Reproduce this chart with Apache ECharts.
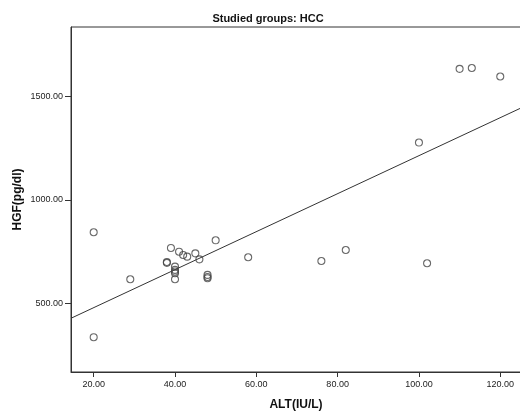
<!DOCTYPE html>
<html>
<head>
<meta charset="utf-8">
<script src="https://cdn.jsdelivr.net/npm/echarts@6/dist/echarts.min.js"></script>
<style>
  html, body { margin: 0; padding: 0; background: #fff; }
  #chart { width: 520px; height: 412px; }
</style>
</head>
<body>
<div id="chart"></div>
<script>
// ALT (IU/L) and HGF (pg/dl) per HCC patient
const altValues = [110, 113, 120, 100, 76, 82, 102, 20, 29, 39, 41, 42, 43, 45, 46, 50, 58,
                   38, 38, 40, 40, 40, 40, 40, 48, 48, 48, 20];
const hgfValues = [1633, 1637, 1596, 1277, 705, 758, 694, 844, 617, 768, 750, 734, 726, 742, 713, 805, 723,
                   696, 700, 678, 662, 654, 646, 617, 638, 628, 622, 337];

// Linear fit line endpoints (ALT, HGF)
const fitAlt = [14.42, 125.1];
const fitHgf = [428.5, 1444];

// Tick labels
const xTicks = [20, 40, 60, 80, 100, 120];
const yTicks = [500, 1000, 1500];

const points = altValues.map((a, i) => [a, hgfValues[i]]);
const fitLine = fitAlt.map((a, i) => [a, fitHgf[i]]);

const chart = echarts.init(document.getElementById('chart'), null, { renderer: 'canvas' });
const fontFam = '"Liberation Sans", Arial, sans-serif';

chart.setOption({
  backgroundColor: '#ffffff',
  animation: false,
  title: {
    text: 'Studied groups: HCC',
    left: 263,
    textAlign: 'center',
    top: 8,
    textStyle: { fontFamily: fontFam, fontWeight: 'bold', fontSize: 11, color: '#111' }
  },
  grid: {
    left: 71, top: 27, width: 450, height: 345,
    containLabel: false,
    outerBoundsMode: 'none',
    show: true, borderColor: '#333', borderWidth: 1, backgroundColor: 'transparent'
  },
  xAxis: {
    type: 'value',
    min: 14.42, max: 125.1,
    name: 'ALT(IU/L)',
    nameLocation: 'middle',
    nameGap: 27,
    nameMoveOverlap: false,
    nameTextStyle: { fontFamily: fontFam, fontWeight: 'bold', fontSize: 12, color: '#111' },
    axisLine: { show: true, onZero: false, lineStyle: { color: '#333', width: 1 } },
    axisTick: { show: true, length: 5, customValues: xTicks, lineStyle: { color: '#333' } },
    axisLabel: {
      customValues: xTicks, margin: 8,
      fontFamily: fontFam, fontSize: 9, color: '#222',
      formatter: v => v.toFixed(2)
    },
    splitLine: { show: false }
  },
  yAxis: {
    type: 'value',
    min: 169, max: 1835,
    name: 'HGF(pg/dl)',
    nameLocation: 'middle',
    nameGap: 47,
    nameMoveOverlap: false,
    nameTextStyle: { fontFamily: fontFam, fontWeight: 'bold', fontSize: 12, color: '#111' },
    axisLine: { show: true, onZero: false, lineStyle: { color: '#333', width: 1 } },
    axisTick: { show: true, length: 6, customValues: yTicks, lineStyle: { color: '#333' } },
    axisLabel: {
      customValues: yTicks, margin: 8,
      fontFamily: fontFam, fontSize: 9, color: '#222',
      formatter: v => v.toFixed(2)
    },
    splitLine: { show: false }
  },
  series: [
    {
      type: 'line',
      data: fitLine,
      symbol: 'none',
      lineStyle: { color: '#333', width: 1 },
      silent: true,
      z: 2
    },
    {
      type: 'scatter',
      data: points,
      symbol: 'circle',
      symbolSize: 7,
      itemStyle: { color: 'rgba(255,255,255,0)', borderColor: '#444', borderWidth: 1.1 },
      z: 3
    }
  ]
});
</script>
</body>
</html>
